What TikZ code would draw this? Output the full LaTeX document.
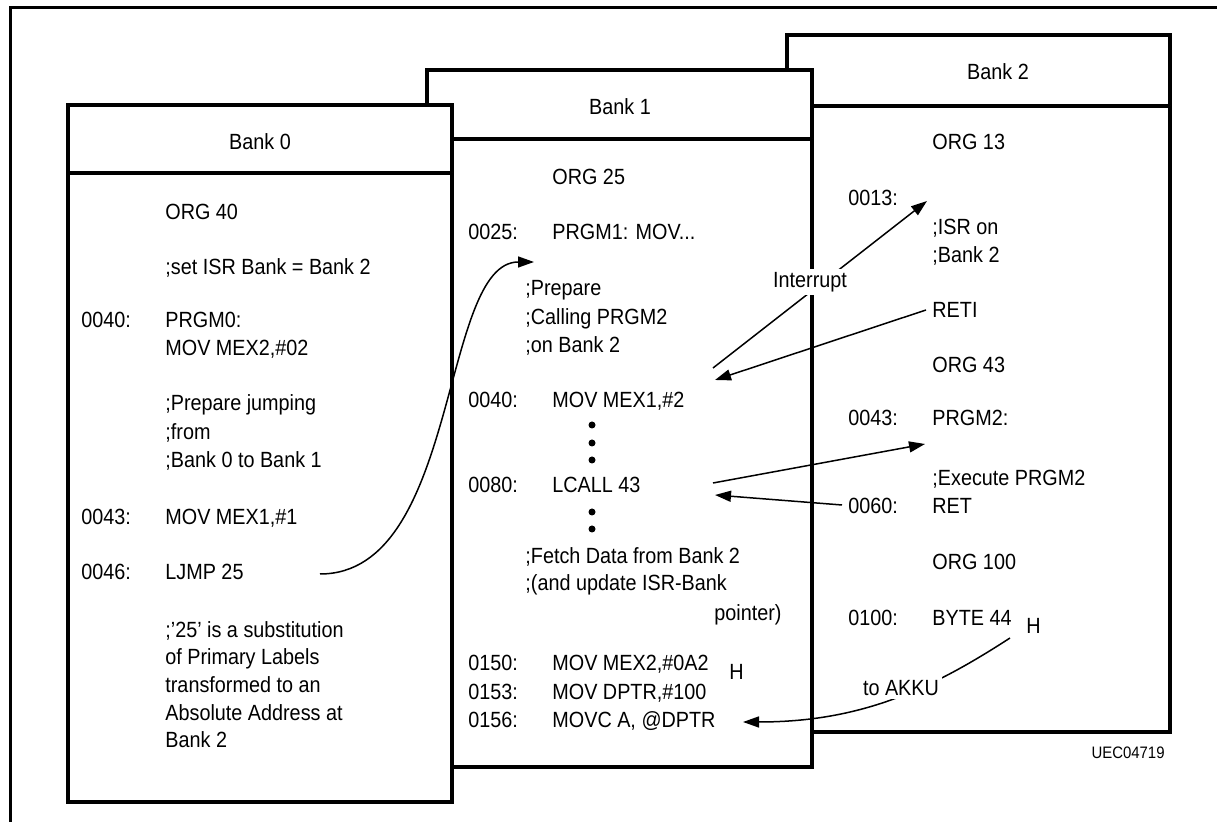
\documentclass[tikz,border=0pt]{standalone}
\usepackage{fontspec}
\setmainfont[FakeStretch=0.9]{Liberation Sans}
\usetikzlibrary{arrows.meta}

\tikzset{
  frame/.style={line width=1.5pt},
  bank/.style={draw, line width=2.2pt, fill=white},
  title/.style={inner sep=1pt, font=\fontsize{11}{13}\selectfont},
  code/.style={anchor=base west, inner sep=1pt, font=\fontsize{11}{13}\selectfont},
  link/.style={line width=0.75pt},
  lbl/.style={fill=white, inner sep=1.5pt, font=\fontsize{11}{13}\selectfont},
}

\begin{document}
\begin{tikzpicture}[x=0.5pt,y=-0.5pt,>={Triangle[length=8pt,width=5.5pt]}]
\useasboundingbox (0,0) rectangle (1217,822);
\draw[frame] (10,822) -- (10,8) -- (1217,8);

% the three banks, rear one first
\draw[bank] (787,35) rectangle (1170,732);
\draw[bank] (787,106) -- (1170,106);
\node[title] (bank2) at (998,72) {Bank 2};

\draw[bank] (427,70) rectangle (812,767);
\draw[bank] (427,139) -- (812,139);
\node[title] (bank1) at (620,107) {Bank 1};

\draw[bank] (68,105) rectangle (452,802);
\draw[bank] (68,173) -- (452,173);
\node[title] (bank0) at (260,142) {Bank 0};

% Bank 0
\foreach [count=\i] \yy/\txt in {328/0040:, 525/0043:, 580/0046:}
  \node[code] (b0a\i) at (79,\yy) {\txt};
\foreach [count=\i] \yy/\txt in {220/ORG 40, 275/{;set ISR Bank = Bank 2},
    328/PRGM0:, 356/{MOV MEX2,\#02}, 411/;Prepare jumping, 440/;from,
    468/;Bank 0 to Bank 1, 525/{MOV MEX1,\#1}, 580/LJMP 25,
    638/{;'25' is a substitution}, 665/of Primary Labels,
    693/transformed to an, 721/Absolute Address at, 748/Bank 2}
  \node[code] (b0c\i) at (163,\yy) {\txt};

% Bank 1
\foreach [count=\i] \yy/\txt in {240/0025:, 408/0040:, 493/0080:,
    671/0150:, 700/0153:, 728/0156:}
  \node[code] (b1a\i) at (466,\yy) {\txt};
\foreach [count=\i] \yy/\txt in {185/ORG 25, 240/{PRGM1: MOV...},
    408/{MOV MEX1,\#2}, 493/LCALL 43, 671/{MOV MEX2,\#0A2},
    700/{MOV DPTR,\#100}, 728/{MOVC A, @DPTR}}
  \node[code] (b1c\i) at (550,\yy) {\txt};
\foreach [count=\i] \yy/\txt in {296/;Prepare, 325/;Calling PRGM2,
    353/;on Bank 2, 564/;Fetch Data from Bank 2, 591/;(and update ISR-Bank}
  \node[code] (b1n\i) at (523,\yy) {\txt};
\node[code, anchor=base east] (b1ptr) at (784,621) {pointer)};
\node[code] (b1h) at (727,680) {H};
\foreach \yy in {425,443,460,512,529}
  \fill (592,\yy) circle (3.5);

% Bank 2
\foreach [count=\i] \yy/\txt in {206/0013:, 426/0043:, 514/0060:, 626/0100:}
  \node[code] (b2a\i) at (846,\yy) {\txt};
\foreach [count=\i] \yy/\txt in {150/ORG 13, 235/;ISR on, 263/;Bank 2,
    318/RETI, 373/ORG 43, 426/PRGM2:, 486/;Execute PRGM2, 514/RET,
    570/ORG 100, 626/BYTE 44}
  \node[code] (b2c\i) at (930,\yy) {\txt};
\node[code] (b2h) at (1024,634) {H};
\node[code, anchor=base east, font=\fontsize{8.3}{10}\selectfont] (docid) at (1167,759) {UEC04719};

% jumps and calls
\coordinate (jmpA) at (320,574);
\coordinate (jmpB) at (534,262);
\draw[link,->] (jmpA) .. controls (460,574) and (440,262) .. (jmpB);

\coordinate (intA) at (713,368);
\coordinate (intB) at (927,201);
\draw[link,->] (intA) -- (intB);
\node[lbl] (intr) at (810,282) {Interrupt};

\coordinate (retiA) at (926,310);
\coordinate (retiB) at (715,380);
\draw[link,->] (retiA) -- (retiB);

\coordinate (callA) at (713,483);
\coordinate (callB) at (925,444);
\draw[link,->] (callA) -- (callB);

\coordinate (retA) at (842,505);
\coordinate (retB) at (715,495);
\draw[link,->] (retA) -- (retB);

\coordinate (akkuA) at (1010,638);
\coordinate (akkuB) at (743,722);
\draw[link,->] (akkuA) .. controls (930,690) and (860,722) .. (akkuB);
\node[lbl] (akku) at (901,688) {to AKKU};
\end{tikzpicture}
\end{document}
